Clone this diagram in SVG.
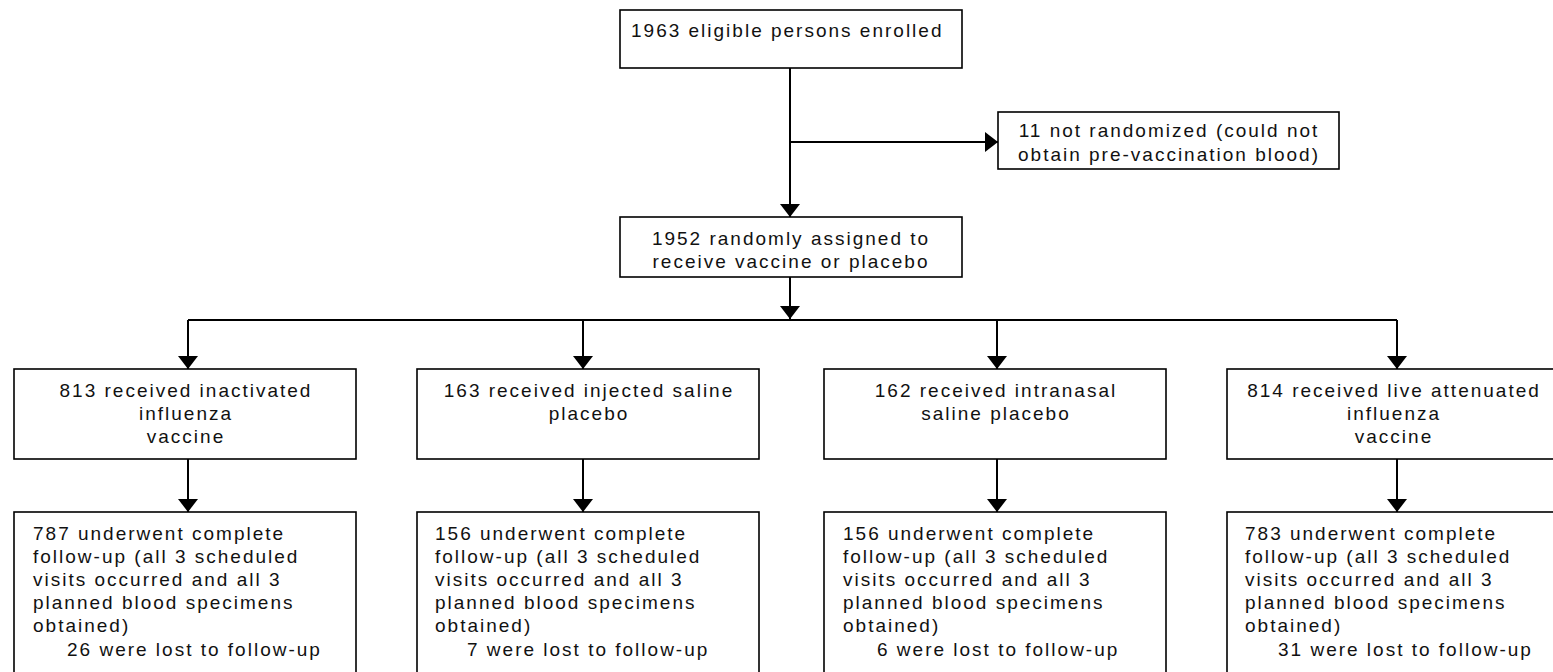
<svg xmlns="http://www.w3.org/2000/svg" width="1553" height="672" viewBox="0 0 1553 672">
<style>
.box{fill:#fff;stroke:#000;stroke-width:1.6}
.t{font-family:"Liberation Sans",Arial,sans-serif;font-size:19px;letter-spacing:2px;fill:#111}
.c{text-anchor:middle}
.ln{stroke:#000;stroke-width:2;fill:none}
</style>
<defs>
<marker id="ah" markerUnits="userSpaceOnUse" markerWidth="14" markerHeight="22" refX="13" refY="10" orient="auto" viewBox="0 0 14 20">
<path d="M0,0 L13,10 L0,20 z" fill="#000"/>
</marker>
</defs>
<rect width="1553" height="672" fill="#fff"/>
<g id="connectors">
<line class="ln" x1="790" y1="68" x2="790" y2="217" marker-end="url(#ah)"/>
<line class="ln" x1="790" y1="142" x2="998" y2="142" marker-end="url(#ah)"/>
<line class="ln" x1="790" y1="277" x2="790" y2="319" marker-end="url(#ah)"/>
<line class="ln" x1="188" y1="320" x2="1397" y2="320"/>
<line class="ln" x1="188" y1="320" x2="188" y2="369" marker-end="url(#ah)"/>
<line class="ln" x1="583" y1="320" x2="583" y2="369" marker-end="url(#ah)"/>
<line class="ln" x1="997" y1="320" x2="997" y2="369" marker-end="url(#ah)"/>
<line class="ln" x1="1397" y1="320" x2="1397" y2="369" marker-end="url(#ah)"/>
<line class="ln" x1="188" y1="459" x2="188" y2="512" marker-end="url(#ah)"/>
<line class="ln" x1="583" y1="459" x2="583" y2="512" marker-end="url(#ah)"/>
<line class="ln" x1="997" y1="459" x2="997" y2="512" marker-end="url(#ah)"/>
<line class="ln" x1="1397" y1="459" x2="1397" y2="512" marker-end="url(#ah)"/>
</g>
<g id="enrolled">
<rect class="box" x="620" y="10" width="342" height="58"/>
<text class="t" x="631" y="37">1963 eligible persons enrolled</text>
</g>
<g id="not-randomized">
<rect class="box" x="998" y="112" width="341" height="57"/>
<text class="t c" x="1169" y="137">11 not randomized (could not</text>
<text class="t c" x="1169" y="161">obtain pre-vaccination blood)</text>
</g>
<g id="randomized">
<rect class="box" x="620" y="217" width="342" height="60"/>
<text class="t c" x="791" y="245">1952 randomly assigned to</text>
<text class="t c" x="791" y="268">receive vaccine or placebo</text>
</g>
<g id="inactivated">
<rect class="box" x="14" y="369" width="342" height="90"/>
<text class="t c" x="186" y="397">813 received inactivated</text>
<text class="t c" x="186" y="420">influenza</text>
<text class="t c" x="186" y="443">vaccine</text>
</g>
<g id="injected-placebo">
<rect class="box" x="417" y="369" width="342" height="90"/>
<text class="t c" x="589" y="397">163 received injected saline</text>
<text class="t c" x="589" y="420">placebo</text>
</g>
<g id="intranasal-placebo">
<rect class="box" x="824" y="369" width="342" height="90"/>
<text class="t c" x="996" y="397">162 received intranasal</text>
<text class="t c" x="996" y="420">saline placebo</text>
</g>
<g id="live-attenuated">
<rect class="box" x="1227" y="369" width="342" height="90"/>
<text class="t c" x="1394" y="397">814 received live attenuated</text>
<text class="t c" x="1394" y="420">influenza</text>
<text class="t c" x="1394" y="443">vaccine</text>
</g>
<g id="followup-inactivated">
<rect class="box" x="14" y="512" width="342" height="200"/>
<text class="t" x="33" y="540">787 underwent complete</text>
<text class="t" x="33" y="563">follow-up (all 3 scheduled</text>
<text class="t" x="33" y="586">visits occurred and all 3</text>
<text class="t" x="33" y="609">planned blood specimens</text>
<text class="t" x="33" y="632">obtained)</text>
<text class="t" x="67" y="656">26 were lost to follow-up</text>
</g>
<g id="followup-injected">
<rect class="box" x="417" y="512" width="342" height="200"/>
<text class="t" x="435" y="540">156 underwent complete</text>
<text class="t" x="435" y="563">follow-up (all 3 scheduled</text>
<text class="t" x="435" y="586">visits occurred and all 3</text>
<text class="t" x="435" y="609">planned blood specimens</text>
<text class="t" x="435" y="632">obtained)</text>
<text class="t" x="467" y="656">7 were lost to follow-up</text>
</g>
<g id="followup-intranasal">
<rect class="box" x="824" y="512" width="342" height="200"/>
<text class="t" x="843" y="540">156 underwent complete</text>
<text class="t" x="843" y="563">follow-up (all 3 scheduled</text>
<text class="t" x="843" y="586">visits occurred and all 3</text>
<text class="t" x="843" y="609">planned blood specimens</text>
<text class="t" x="843" y="632">obtained)</text>
<text class="t" x="877" y="656">6 were lost to follow-up</text>
</g>
<g id="followup-live">
<rect class="box" x="1227" y="512" width="342" height="200"/>
<text class="t" x="1245" y="540">783 underwent complete</text>
<text class="t" x="1245" y="563">follow-up (all 3 scheduled</text>
<text class="t" x="1245" y="586">visits occurred and all 3</text>
<text class="t" x="1245" y="609">planned blood specimens</text>
<text class="t" x="1245" y="632">obtained)</text>
<text class="t" x="1278" y="656">31 were lost to follow-up</text>
</g>
</svg>
